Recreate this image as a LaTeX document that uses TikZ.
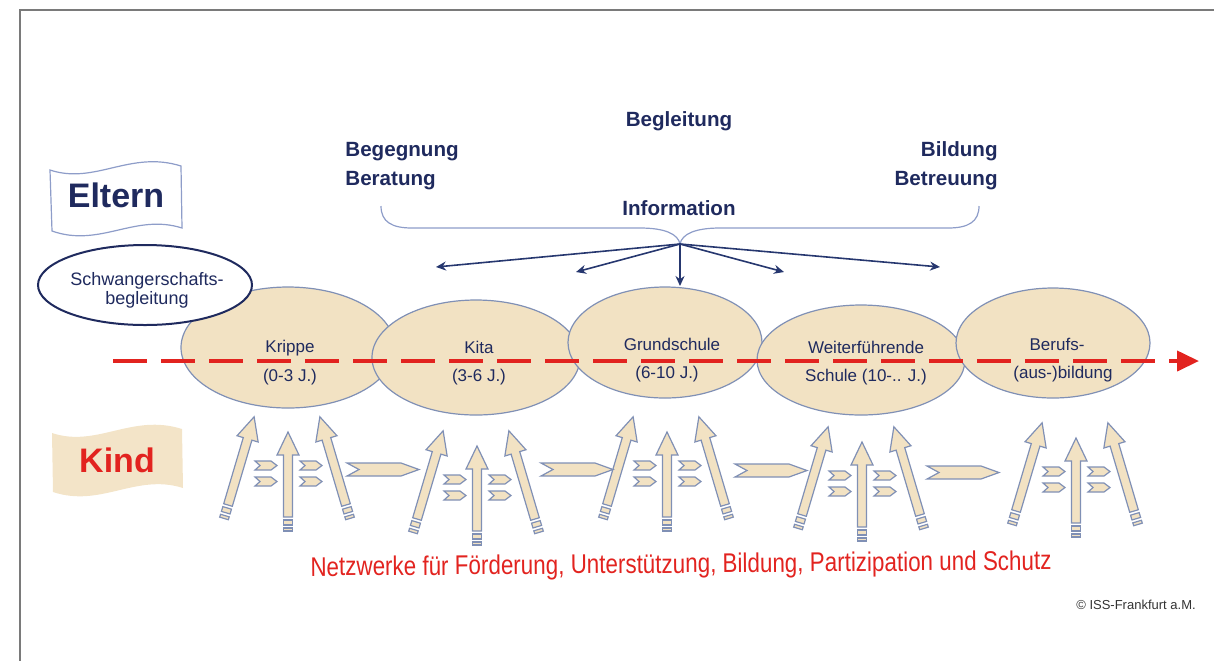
\documentclass[tikz,border=0pt]{standalone}
\usepackage{fontspec}
\usepackage{graphicx}
\setmainfont{Liberation Sans}
\usetikzlibrary{shapes.geometric,arrows.meta}
\definecolor{navy}{HTML}{1F2A5E}
\definecolor{beige}{HTML}{F2E2C3}
\definecolor{edgeblue}{HTML}{8090B5}
\definecolor{redline}{HTML}{E2231F}
\definecolor{bracecol}{HTML}{8E9DC9}
\definecolor{arrnavy}{HTML}{26376F}
\definecolor{framegray}{HTML}{7A7A7A}
\definecolor{flagbeige}{HTML}{F3E4C8}
\tikzset{
  stage/.style={ellipse, draw=edgeblue, fill=beige, line width=0.6pt, inner sep=0pt},
  stagetext/.style={font=\fontsize{8.5}{10}\selectfont, text=navy, inner sep=0pt, anchor=base},
  toptext/.style={font=\fontsize{10.3}{12}\selectfont\bfseries, text=navy, inner sep=0pt},
  flagtext/.style={font=\fontsize{17}{20}\selectfont\bfseries, inner sep=0pt, anchor=base},
  infoarrow/.style={draw=arrnavy, line width=0.8pt, -{Stealth[length=5pt,width=4.5pt]}},
  kidshape/.style={draw=edgeblue, fill=beige, line width=0.6pt, line join=miter},
  pics/bigarrow/.style={code={
    \path[kidshape] (-4.5,0) -- (-4.5,{23-#1}) -- (-11,{23-#1}) -- (0,{-#1})
      -- (11,{23-#1}) -- (4.5,{23-#1}) -- (4.5,0) -- cycle;
    \path[kidshape] (-4.5,3) rectangle (4.5,8);
    \path[kidshape] (-4.5,11) rectangle (4.5,14);
  }},
  pics/smallchev/.style={code={
    \path[kidshape] (0,0) -- (16,0) -- (22,4.5) -- (16,9) -- (0,9) -- (5,4.5) -- cycle;
  }},
  pics/longchev/.style={code={
    \path[kidshape] (0,0) -- (54,0) -- (72,6.5) -- (54,13) -- (0,13) -- (12,6.5) -- cycle;
  }},
  pics/kidgroup/.style={code={
    \pic[rotate=-16.5] at (-60,88) {bigarrow=92};
    \pic[rotate=16.5] at (58,88) {bigarrow=92};
    \pic at (0,100) {bigarrow=85};
    \pic at (-33,44) {smallchev};
    \pic at (-33,60) {smallchev};
    \pic at (12,44) {smallchev};
    \pic at (12,60) {smallchev};
  }},
}
\begin{document}
\begin{tikzpicture}[x=0.5pt,y=-0.5pt]
\useasboundingbox (0,0) rectangle (1214,661);
% frame
\coordinate (fr1) at (1214,10);
\coordinate (fr2) at (20,10);
\coordinate (fr3) at (20,661);
\draw[framegray, line width=1pt] (fr1) -- (fr2) -- (fr3);

% stage ellipses
\node[stage, minimum width=107pt, minimum height=60.5pt] (k1) at (288,347.5) {};
\node[stage, minimum width=104pt, minimum height=57.5pt] (k2) at (476,357.5) {};
\node[stage, minimum width=97pt, minimum height=55.5pt] (k3) at (665,342.5) {};
\node[stage, minimum width=104pt, minimum height=55pt] (k4) at (861,360) {};
\node[stage, minimum width=97pt, minimum height=55pt] (k5) at (1053,343) {};

% pregnancy ellipse
\node[ellipse, draw=navy, fill=white, line width=1pt, inner sep=0pt,
      minimum width=107pt, minimum height=40pt] (sw) at (145,285) {};
\node[stagetext, font=\fontsize{9}{10}\selectfont] (swa) at (147,285) {Schwangerschafts-};
\node[stagetext, font=\fontsize{9}{10}\selectfont] (swb) at (147,304) {begleitung};

% red time line
\coordinate (tl0) at (113,361);
\coordinate (tl1) at (1199,361);
\draw[redline, line width=2pt, dash pattern=on 17pt off 7pt,
      -{Triangle[length=11pt,width=10pt]}] (tl0) -- (tl1);

% stage texts
\node[stagetext] (t1a) at (290,352) {Krippe};
\node[stagetext] (t1b) at (290,381) {(0-3 J.)};
\node[stagetext] (t2a) at (479,353) {Kita};
\node[stagetext] (t2b) at (479,381) {(3-6 J.)};
\node[stagetext] (t3a) at (672,350) {Grundschule};
\node[stagetext] (t3b) at (667,378) {(6-10 J.)};
\node[stagetext] (t4a) at (866,353) {Weiterführende};
\node[stagetext] (t4b) at (866,381) {Schule (10-.. J.)};
\node[stagetext] (t5a) at (1057,350) {Berufs-};
\node[stagetext] (t5b) at (1063,378) {(aus-)bildung};

% top texts
\node[toptext, anchor=base] (begl) at (679,126) {Begleitung};
\node[toptext, anchor=base west] (bege) at (345,156) {Begegnung};
\node[toptext, anchor=base west] (bera) at (345,185) {Beratung};
\node[toptext, anchor=base east] (bild) at (998,156) {Bildung};
\node[toptext, anchor=base east] (betr) at (998,185) {Betreuung};
\node[toptext, anchor=base] (info) at (679,215) {Information};

% brace
\coordinate (bl) at (381,206);
\coordinate (br) at (979,206);
\coordinate (bp) at (680,244);
\draw[bracecol, line width=0.6pt] (bl) .. controls (381,222) and (392,228) .. (412,228)
  -- (640,228) .. controls (665,228) and (678,234) .. (bp)
  .. controls (682,234) and (695,228) .. (720,228)
  -- (948,228) .. controls (968,228) and (979,222) .. (br);

% info arrows
\coordinate (ia1) at (436,267);
\coordinate (ia2) at (576,272);
\coordinate (ia3) at (680,286);
\coordinate (ia4) at (784,272);
\coordinate (ia5) at (940,267);
\draw[infoarrow] (bp) -- (ia1);
\draw[infoarrow] (bp) -- (ia2);
\draw[infoarrow] (bp) -- (ia3);
\draw[infoarrow] (bp) -- (ia4);
\draw[infoarrow] (bp) -- (ia5);

% flags
\path[draw=bracecol, fill=white, line width=0.6pt]
  (50,170) .. controls (95,185) and (130,150) .. (181,166)
  -- (182,228) .. controls (135,213) and (100,248) .. (52,231) -- cycle;
\node[flagtext, text=navy] (eltern) at (116,207) {Eltern};
\path[fill=flagbeige]
  (52,433) .. controls (97,448) and (132,413) .. (182,429)
  -- (183,488) .. controls (136,473) and (101,508) .. (53,492) -- cycle;
\node[flagtext, text=redline] (kind) at (117,472) {Kind};

% children arrow groups
\pic at (288,417) {kidgroup};
\pic at (477,431) {kidgroup};
\pic at (667,417) {kidgroup};
\pic at (862,427) {kidgroup};
\pic at (1076,423) {kidgroup};
\pic at (347,463) {longchev};
\pic at (541,463) {longchev};
\pic at (735,464) {longchev};
\pic at (927,466) {longchev};

% bottom texts
\node[inner sep=0pt, text=redline, rotate=0.5, font=\fontsize{13.5}{15}\selectfont] (netz) at (681,566)
  {\scalebox{0.83}[1]{Netzwerke für Förderung, Unterstützung, Bildung, Partizipation und Schutz}};
\node[inner sep=0pt, anchor=base, text=black!80, font=\fontsize{6.5}{8}\selectfont] (copy) at (1136,609)
  {© ISS-Frankfurt a.M.};
\end{tikzpicture}
\end{document}
